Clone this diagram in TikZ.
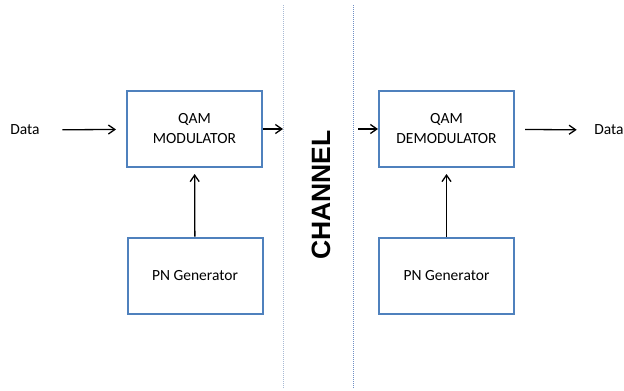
\documentclass[tikz,border=0pt]{standalone}
\usepackage{fontspec}
\setmainfont{Carlito}
\newfontfamily\chanfont{Liberation Sans}
\usetikzlibrary{arrows.meta}
\definecolor{BoxBlue}{HTML}{4F81BD}
\definecolor{LineGray}{HTML}{A8BAD4}
\definecolor{LineBlue}{HTML}{6F8FC4}
\tikzstyle{blockstyle} = [rectangle, draw=BoxBlue, line width=2pt, minimum width=135pt, minimum height=76pt, align=center, font=\fontsize{15.5}{20}\selectfont]
\tikzstyle{lbl} = [inner sep=0pt, font=\fontsize{15.5}{20}\selectfont]
\tikzstyle{chline} = [densely dotted, line width=1pt]
\tikzset{>={Straight Barb[length=6.5pt,width=9pt]}, every picture/.style={line width=1.3pt}}

\begin{document}
\begin{tikzpicture}[x=1pt, y=-1pt]
\useasboundingbox (0,0) rectangle (624,391);
\node[blockstyle] (mod) at (194.5,129) {QAM\\MODULATOR};
\node[blockstyle] (pnl) at (195,275.5) {PN Generator};
\node[blockstyle] (demod) at (446.5,129) {QAM\\DEMODULATOR};
\node[blockstyle] (pnr) at (446.5,275.5) {PN Generator};
\node[lbl] (din) at (25,130) {Data};
\node[lbl] (dout) at (609,130) {Data};
\node[rotate=90, inner sep=0pt, font=\chanfont\bfseries\fontsize{26.5}{30}\selectfont] (chan) at (321,195) {CHANNEL};
\coordinate (ltop) at (283,5);
\coordinate (lbot) at (283,388);
\coordinate (rtop) at (353,5);
\coordinate (rbot) at (353,388);
\coordinate (modout) at (283,129);
\coordinate (demodin) at (358,129);
\draw [chline, LineGray] (ltop) -- (lbot);
\draw [chline, LineBlue] (rtop) -- (rbot);
\draw [->, shorten <=22pt, shorten >=10pt] (din) -- (mod);
\draw [->] (mod) -- (modout);
\draw [->, shorten >=6pt] (pnl) -- (mod);
\draw [->] (demodin) -- (demod);
\draw [->, shorten <=10pt, shorten >=17pt] (demod) -- (dout);
\draw [->, shorten >=6pt] (pnr) -- (demod);
\end{tikzpicture}
\end{document}
